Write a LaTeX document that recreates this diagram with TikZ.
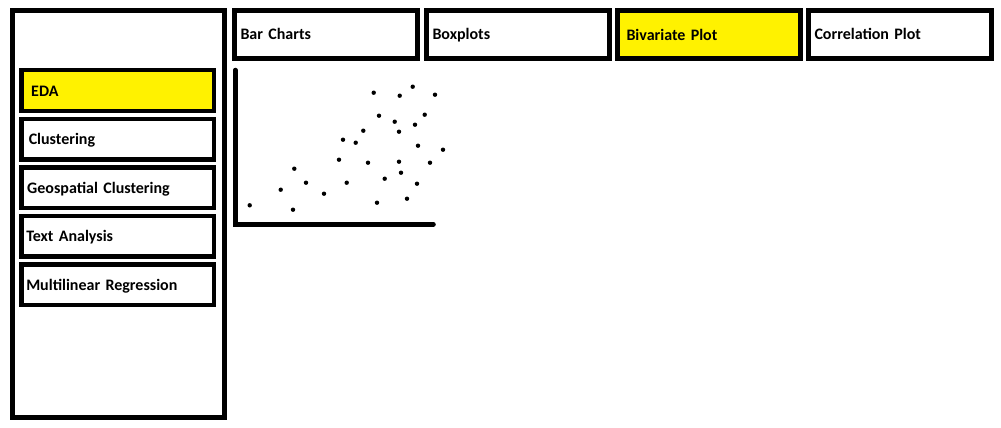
\documentclass[tikz,border=0pt]{standalone}
\usepackage{fontspec}
\setmainfont{Carlito}
\usepackage{tikz}
\usetikzlibrary{positioning}

\definecolor{hlyellow}{RGB}{255,242,0}

\begin{document}
\begin{tikzpicture}[x=1pt,y=-1pt,
  every node/.style={font=\fontsize{16}{18}\selectfont\bfseries},
  panel node/.style={draw,line width=5pt,minimum width=212pt,minimum height=407pt,anchor=north west},
  menu node/.style={draw,line width=4.5pt,minimum height=40.5pt,text width=182.5pt,inner xsep=5pt,
    text height=12pt,text depth=1pt,align=left,anchor=north west},
  tab node/.style={draw,line width=5pt,minimum height=48pt,text width=171pt,inner xsep=6pt,
    text height=12pt,text depth=1pt,align=left,anchor=north west},
  axis line/.style={line width=4.5pt,line cap=round}]

  \useasboundingbox (0,0) rectangle (1001,428);

  % side panel with menu
  \node[panel node] (panel) at (10,8) {};
  \node[menu node, fill=hlyellow] (eda) at (19,68) {\hspace{5pt}EDA};
  \node[menu node] (clus) [below=3.5pt of eda] {\hspace{2.5pt}Clustering};
  \node[menu node] (geo) [below=3.5pt of clus] {\hspace{1pt}Geospatial Clustering};
  \node[menu node] (text) [below=3.5pt of geo] {Text Analysis};
  \node[menu node] (mlr) [below=3.5pt of text] {Multilinear Regression};

  % tabs
  \node[tab node] (bar) at (232,8) {Bar Charts};
  \node[tab node] (box) at (424,8) {Boxplots};
  \node[tab node, fill=hlyellow] (biv) at (615,8) {\hspace{3pt}\raisebox{-1pt}{Bivariate Plot}};
  \node[tab node] (corr) at (806,8) {Correlation Plot};

  % scatter plot
  \coordinate (ytop) at (235.3,70);
  \coordinate (origin) at (235.3,224.3);
  \coordinate (xend) at (433.5,224.3);
  \draw[axis line] (ytop) -- (origin) -- (xend);

  \foreach \px/\py in {249.7/205.3, 280.7/189.7, 293/209.7, 294.3/168.7, 306/182.7,
      324/193.7, 339/159.7, 343/139.7, 346.7/182.7, 355.7/142.7,
      363.3/130.7, 368/162.7, 373.7/92.7, 377/202.7, 379/115.7,
      384.7/178.7, 394.7/121.7, 399/161.7, 399/131.7, 399.7/95.7,
      401/172.7, 407/198.7, 412.7/86.7, 415/124.7, 417/183.7,
      418/145.7, 424.7/114.7, 430/162.7, 435/94.7, 443/149.7}
    \fill (\px,\py) circle (2.2pt);
\end{tikzpicture}
\end{document}
